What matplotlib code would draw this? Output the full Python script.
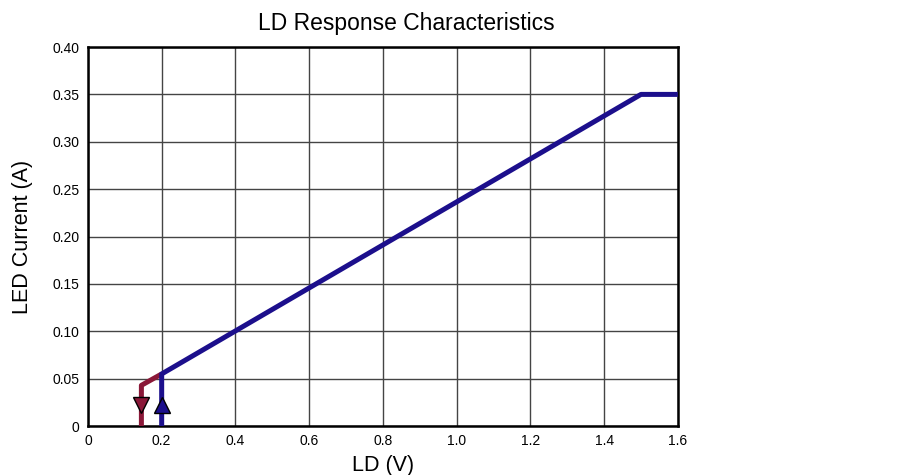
import matplotlib
matplotlib.use("Agg")
import matplotlib.pyplot as plt

plt.rcParams['font.family'] = ['Liberation Sans', 'DejaVu Sans']

# rising (blue) and falling (red) branches
ld_up = [0.2, 0.2, 1.5, 1.6]
cur_up = [0.0, 0.055, 0.35, 0.35]
ld_down = [0.145, 0.145, 0.2]
cur_down = [0.0, 0.043, 0.055]

xticks = [0, 0.2, 0.4, 0.6, 0.8, 1.0, 1.2, 1.4, 1.6]
xlabels = ['0', '0.2', '0.4', '0.6', '0.8', '1.0', '1.2', '1.4', '1.6']
yticks = [0, 0.05, 0.10, 0.15, 0.20, 0.25, 0.30, 0.35, 0.40]
ylabels = ['0', '0.05', '0.10', '0.15', '0.20', '0.25', '0.30', '0.35', '0.40']

blue = '#1c0f8c'
red = '#8a1838'

fig = plt.figure(figsize=(9.16, 4.75), dpi=100)
ax = fig.add_axes([0.096, 0.103, 0.644, 0.798])

ax.plot(ld_down, cur_down, color=red, lw=3.6, solid_capstyle='butt', zorder=3)
ax.plot(ld_up, cur_up, color=blue, lw=3.6, solid_capstyle='butt', zorder=4)

# direction arrows
ax.plot([ld_down[0]], [0.022], marker='v', ms=11, color=red, mec='black', mew=1, zorder=5)
ax.plot([ld_up[0]], [0.022], marker='^', ms=11, color=blue, mec='black', mew=1, zorder=5)

ax.set_xlim(0, 1.6)
ax.set_ylim(0, 0.40)
ax.set_xticks(xticks)
ax.set_xticklabels(xlabels)
ax.set_yticks(yticks)
ax.set_yticklabels(ylabels)
ax.tick_params(length=0, labelsize=10, pad=6)
ax.grid(True, color='#444444', lw=1)
for s in ax.spines.values():
    s.set_linewidth(1.8)

ax.set_title('LD Response Characteristics', fontsize=16.5, pad=12, x=0.539)
ax.set_xlabel('LD (V)', fontsize=15.5, labelpad=5)
ax.set_ylabel('LED Current (A)', fontsize=15.5, labelpad=14)

fig.savefig('out.png', dpi=100)
